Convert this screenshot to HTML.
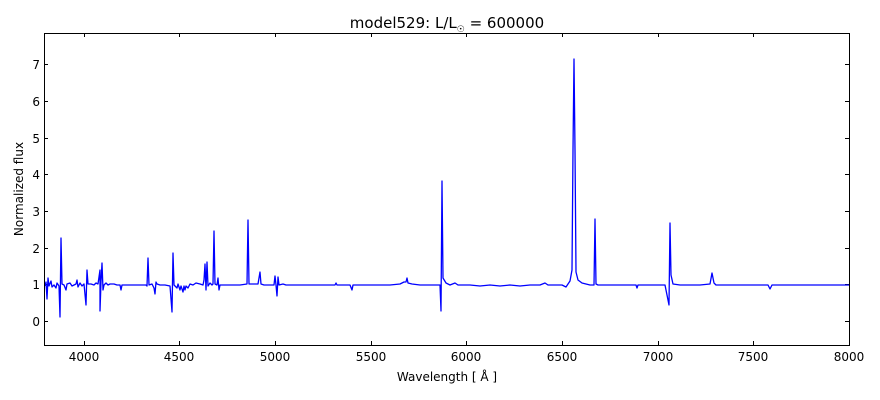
<!DOCTYPE html>
<html><head><meta charset="utf-8"><style>
body{margin:0;background:#fff;}
svg{display:block;font-family:"DejaVu Sans","Liberation Sans",sans-serif;}
</style></head><body>
<svg width="880" height="400" viewBox="0 0 880 400">
<rect width="880" height="400" fill="#fff"/>
<text x="447" y="28" font-size="15" text-anchor="middle">model529: L/L<tspan font-size="9" dy="4">☉</tspan><tspan dy="-4"> = 600000</tspan></text>
<g stroke="#000" stroke-width="1">
<path d="M84.5 345v-4M179.5 345v-4M275.5 345v-4M371.5 345v-4M466.5 345v-4M562.5 345v-4M658.5 345v-4M753.5 345v-4M849.5 345v-4
M84.5 33v4M179.5 33v4M275.5 33v4M371.5 33v4M466.5 33v4M562.5 33v4M658.5 33v4M753.5 33v4
M44 321.5h4M44 284.5h4M44 248.5h4M44 211.5h4M44 174.5h4M44 138.5h4M44 101.5h4M44 64.5h4
M849 321.5h-4M849 284.5h-4M849 248.5h-4M849 211.5h-4M849 174.5h-4M849 138.5h-4M849 101.5h-4M849 64.5h-4"/>
</g>
<path fill="none" stroke="#0000ff" stroke-width="1.3" stroke-linejoin="round" d="
M45 286 L46 282 L47 299 L48 278 L49 286 L51 281 L52 287 L54 285 L56 288 L57 283 L59 286 L60 317 L61 238 L62 284 L64 285 L66 290 L67 284 L70 283 L72 286 L74 285 L76 284 L77 280 L78 287 L80 283 L82 286 L84 284 L86 305 L87 270 L88 284 L91 284 L94 285 L96 283 L98 284 L100 270 L100 311 L101 282 L102 263 L103 290 L104 285 L106 283 L108 285 L110 284 L114 284 L117 285 L120 285 L121 290 L122 285 L130 285 L140 285 L146 285 L147 286 L148 258 L149 285 L152 284 L154 288 L155 294 L156 282 L157 284 L160 285 L165 285 L170 286 L172 312 L173 253 L174 285 L177 288 L178 284 L180 290 L181 286 L183 292 L184 286 L185 290 L186 286 L188 288 L190 284 L193 285 L196 283 L200 284 L203 285 L204 280 L205 264 L206 290 L207 262 L208 286 L210 283 L212 285 L213 284 L214 231 L215 284 L217 285 L218 278 L219 290 L220 285 L230 285 L240 285 L247 284 L248 220 L249 284 L252 284 L256 284 L258 284 L260 272 L261 284 L264 285 L270 285 L274 285 L275 276 L276 285 L277 296 L278 277 L279 285 L283 284 L286 285 L300 285 L320 285 L335 285 L336 283 L337 285 L350 285 L352 290 L353 285 L370 285 L390 285 L400 284 L404 282 L406 282 L407 278 L408 283 L412 284 L420 285 L435 285 L440 285 L441 311 L442 181 L443 278 L446 283 L450 285 L455 283 L458 285 L470 285 L480 286 L490 285 L500 286 L510 285 L520 286 L530 285 L540 285 L545 283 L548 285 L555 285 L562 285 L566 287 L568 284 L570 281 L572 270 L573 150 L574 59 L575 150 L576 272 L578 280 L582 283 L586 284 L590 285 L594 285 L595 219 L596 284 L598 285 L605 285 L620 285 L636 285 L637 288 L638 285 L650 285 L665 285 L669 305 L670 223 L671 275 L673 284 L680 285 L700 285 L710 284 L712 273 L714 283 L716 285 L730 285 L750 285 L768 285 L770 289 L772 285 L790 285 L800 285 L820 285 L849 285"/>
<rect x="44.5" y="33.5" width="805" height="312" fill="none" stroke="#000" stroke-width="1"/>
<g font-size="12" text-anchor="middle">
<text x="84" y="361">4000</text><text x="179" y="361">4500</text><text x="275" y="361">5000</text><text x="371" y="361">5500</text><text x="466" y="361">6000</text><text x="562" y="361">6500</text><text x="658" y="361">7000</text><text x="753" y="361">7500</text><text x="849" y="361">8000</text>
</g>
<g font-size="12" text-anchor="end">
<text x="40" y="326">0</text><text x="40" y="289">1</text><text x="40" y="253">2</text><text x="40" y="216">3</text><text x="40" y="179">4</text><text x="40" y="143">5</text><text x="40" y="106">6</text><text x="40" y="69">7</text>
</g>
<text x="447" y="381" font-size="12" text-anchor="middle">Wavelength [ Å ]</text>
<text transform="translate(23,189) rotate(-90)" font-size="12" text-anchor="middle">Normalized flux</text>
</svg>
</body></html>
